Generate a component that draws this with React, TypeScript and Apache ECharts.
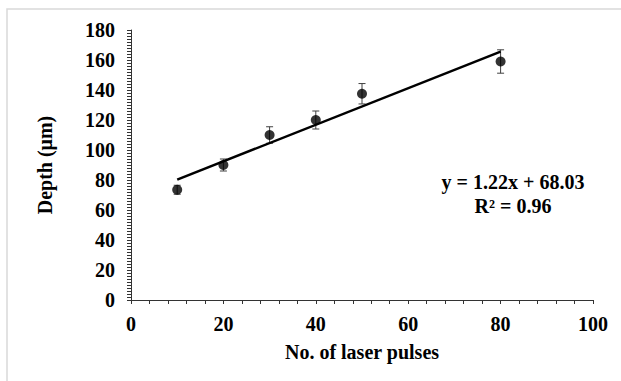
import React, { useEffect, useRef } from "react";
import * as echarts from "echarts";

const pulses = [10, 20, 30, 40, 50, 80];
const depth = [73.5, 90, 110, 120, 137.5, 159];
const depthErr = [3, 4, 5.5, 6, 6.8, 7.8];
const trendX = [10, 80];
const trendY = [80.23, 165.63];
const eqLine1 = "y = 1.22x + 68.03";
const eqLine2 = "R² = 0.96";
const xTitle = "No. of laser pulses";
const yTitle = "Depth (μm)";

const FONT = '"Liberation Serif", "Times New Roman", serif';

export default function App() {
  const ref = useRef<HTMLDivElement>(null);
  useEffect(() => {
    if (!ref.current) return;
    const chart = echarts.init(ref.current, null, { renderer: "svg" });
    const errData = pulses.map((x, i) => [x, depth[i] - depthErr[i], depth[i] + depthErr[i]]);
    const axisCol = "#333333";
    chart.setOption({
      animation: false,
      backgroundColor: "#ffffff",
      grid: { left: 131, top: 30, right: 28, bottom: 81, containLabel: false },
      xAxis: {
        type: "value",
        min: 0,
        max: 100,
        interval: 20,
        name: xTitle,
        nameLocation: "middle",
        nameGap: 42,
        nameTextStyle: { fontFamily: FONT, fontWeight: "bold", fontSize: 20, color: "#000" },
        axisLine: { show: true, lineStyle: { color: axisCol, width: 1 } },
        axisTick: { show: true, inside: false, length: 4, lineStyle: { color: axisCol } },
        minorTick: { show: true, splitNumber: 5, length: 4, lineStyle: { color: axisCol } },
        splitLine: { show: false },
        axisLabel: { fontFamily: FONT, fontWeight: "bold", fontSize: 20, color: "#000", margin: 14 },
      },
      yAxis: {
        type: "value",
        min: 0,
        max: 180,
        interval: 20,
        name: yTitle,
        nameLocation: "middle",
        nameGap: 76,
        nameTextStyle: { fontFamily: FONT, fontWeight: "bold", fontSize: 20, color: "#000" },
        axisLine: { show: true, lineStyle: { color: axisCol, width: 1 } },
        axisTick: { show: true, inside: false, length: 4, lineStyle: { color: axisCol } },
        minorTick: { show: true, splitNumber: 10, length: 4, lineStyle: { color: axisCol } },
        splitLine: { show: false },
        axisLabel: { fontFamily: FONT, fontWeight: "bold", fontSize: 20, color: "#000", margin: 16 },
      },
      series: [
        {
          type: "custom",
          z: 1,
          data: errData,
          renderItem: (params: any, api: any) => {
            const x = api.value(0);
            const lo = api.coord([x, api.value(1)]);
            const hi = api.coord([x, api.value(2)]);
            const w = 3.5;
            const st = { stroke: "#404040", lineWidth: 1 };
            return {
              type: "group",
              children: [
                { type: "line", shape: { x1: lo[0], y1: lo[1], x2: hi[0], y2: hi[1] }, style: st },
                { type: "line", shape: { x1: lo[0] - w, y1: lo[1], x2: lo[0] + w, y2: lo[1] }, style: st },
                { type: "line", shape: { x1: hi[0] - w, y1: hi[1], x2: hi[0] + w, y2: hi[1] }, style: st },
              ],
            };
          },
        },
        {
          type: "line",
          z: 2,
          data: trendX.map((x, i) => [x, trendY[i]]),
          showSymbol: false,
          symbol: "none",
          lineStyle: { color: "#000", width: 2.5 },
        },
        {
          type: "scatter",
          z: 3,
          data: pulses.map((x, i) => [x, depth[i]]),
          symbol: "circle",
          symbolSize: 10,
          itemStyle: { color: "#000" },
        },
      ],
      graphic: [
        {
          type: "rect",
          silent: true,
          z: -10,
          shape: { x: 7, y: 9, width: 700, height: 500 },
          style: { fill: "none", stroke: "#d9d9d9", lineWidth: 1.5 },
        },
        {
          type: "text",
          x: 513,
          y: 182,
          style: {
            text: eqLine1,
            fontFamily: FONT,
            fontWeight: "bold",
            fontSize: 20,
            fill: "#000",
            textAlign: "center",
            textVerticalAlign: "middle",
          },
        },
        {
          type: "text",
          x: 513,
          y: 206,
          style: {
            text: eqLine2,
            fontFamily: FONT,
            fontWeight: "bold",
            fontSize: 20,
            fill: "#000",
            textAlign: "center",
            textVerticalAlign: "middle",
          },
        },
      ],
    });
    return () => chart.dispose();
  }, []);
  return (
    <div
      ref={ref}
      style={{ position: "fixed", left: 0, top: 0, width: 621, height: 381 }}
    />
  );
}
